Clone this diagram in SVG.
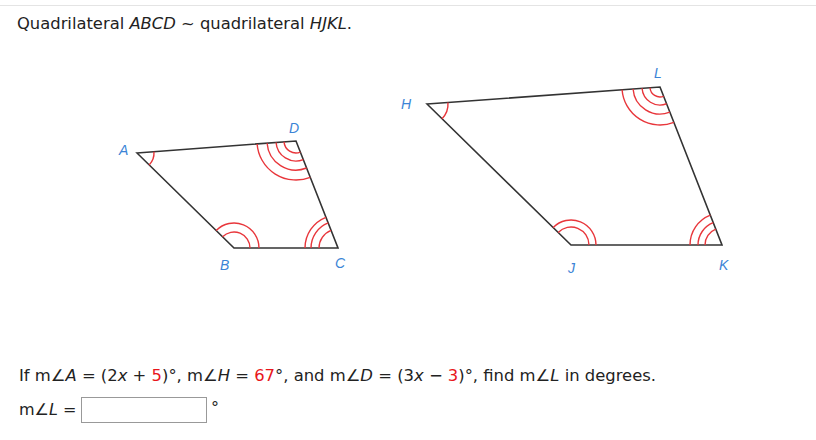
<svg xmlns="http://www.w3.org/2000/svg" width="816" height="440" viewBox="0 0 816 440">
<style>
.t{font-family:"DejaVu Sans",Verdana,sans-serif;font-size:16px;fill:#222}
.lb{font-family:"Liberation Sans",Arial,sans-serif;font-size:14px;font-style:italic;fill:#3b84d6}
.e{stroke:#333;stroke-width:1.6;fill:none}
.a{stroke:#e8363b;stroke-width:1.4;fill:none}
.r{fill:#e8161b}
</style>
<rect width="816" height="440" fill="#fff"/>
<line x1="0" y1="5.5" x2="816" y2="5.5" stroke="#e4e4e4"/>
<text class="t" x="17" y="29" textLength="335" lengthAdjust="spacingAndGlyphs">Quadrilateral <tspan font-style="italic">ABCD</tspan> ~ quadrilateral <tspan font-style="italic">HJKL</tspan>.</text>
<g id="abcd">
<polygon class="e" points="137,153 296,141 338,248 234,248"/>
<path class="a" d="M153.95,151.72 A17,17 0 0 1 149.14,164.9"/>
<path class="a" d="M284.04,141.9 A12,12 0 0 0 300.39,152.17 M276.06,142.5 A20,20 0 0 0 303.32,159.62 M267.09,143.18 A29,29 0 0 0 306.61,168 M257.12,143.93 A39,39 0 0 0 310.27,177.31"/>
<path class="a" d="M331.05,230.31 A19,19 0 0 0 319,248 M328.12,222.86 A27,27 0 0 0 311,248 M325.92,217.28 A33,33 0 0 0 305,248"/>
<path class="a" d="M250,248 A16,16 0 0 0 222.58,236.8 M259,248 A25,25 0 0 0 216.15,230.5"/>
<text class="lb" x="119" y="155">A</text>
<text class="lb" x="289" y="133">D</text>
<text class="lb" x="220" y="270">B</text>
<text class="lb" x="335" y="268">C</text>
</g>
<g id="hjkl">
<polygon class="e" points="427,104 660,87 722,245 571,245"/>
<path class="a" d="M447.95,102.47 A21,21 0 0 1 442,118.69"/>
<path class="a" d="M650.03,87.73 A10,10 0 0 0 663.65,96.31 M642.05,88.31 A18,18 0 0 0 666.58,103.76 M633.07,88.97 A27,27 0 0 0 669.86,112.13 M622.1,89.77 A38,38 0 0 0 673.88,122.37"/>
<path class="a" d="M715.79,229.17 A17,17 0 0 0 705,245 M713.23,222.66 A24,24 0 0 0 698,245 M710.31,215.21 A32,32 0 0 0 690,245"/>
<path class="a" d="M589,245 A18,18 0 0 0 558.14,232.41 M596,245 A25,25 0 0 0 553.14,227.51"/>
<text class="lb" x="401" y="109">H</text>
<text class="lb" x="654" y="78">L</text>
<text class="lb" x="568" y="273">J</text>
<text class="lb" x="719" y="270">K</text>
</g>
<text class="t" x="19" y="381" textLength="637" lengthAdjust="spacingAndGlyphs">If m∠<tspan font-style="italic">A</tspan> = (2<tspan font-style="italic">x</tspan> + <tspan class="r">5</tspan>)°, m∠<tspan font-style="italic">H</tspan> = <tspan class="r">67</tspan>°, and m∠<tspan font-style="italic">D</tspan> = (3<tspan font-style="italic">x</tspan> − <tspan class="r">3</tspan>)°, find m∠<tspan font-style="italic">L</tspan> in degrees.</text>
<text class="t" x="19" y="415">m∠<tspan font-style="italic">L</tspan> =</text>
<rect x="81.5" y="397.5" width="125" height="25" fill="#fff" stroke="#999"/>
<text class="t" x="211" y="413">°</text>
</svg>
